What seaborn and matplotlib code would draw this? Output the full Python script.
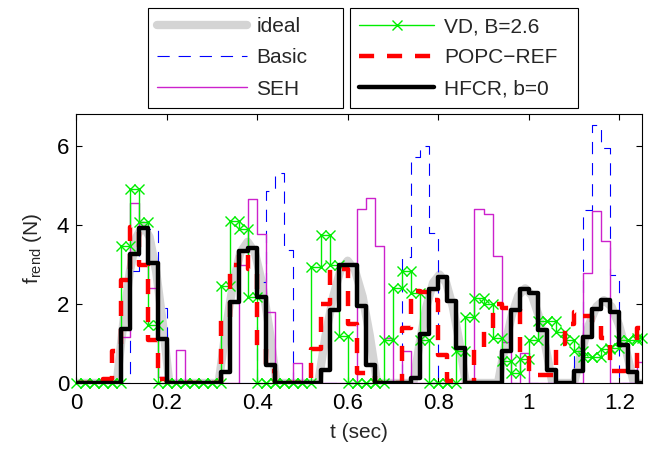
import numpy as np
import matplotlib
matplotlib.use("Agg")
import matplotlib.pyplot as plt
import seaborn as sns

# sample instants of the stair series (sec)
t_step = [0.00, 0.02, 0.04, 0.06, 0.08, 0.10, 0.12, 0.14, 0.16, 0.18,
          0.20, 0.22, 0.24, 0.26, 0.28, 0.30, 0.32, 0.34, 0.36, 0.38,
          0.40, 0.42, 0.44, 0.46, 0.48, 0.50, 0.52, 0.54, 0.56, 0.58,
          0.60, 0.62, 0.64, 0.66, 0.68, 0.70, 0.72, 0.74, 0.76, 0.78,
          0.80, 0.82, 0.84, 0.86, 0.88, 0.90, 0.92, 0.94, 0.96, 0.98,
          1.00, 1.02, 1.04, 1.06, 1.08, 1.10, 1.12, 1.14, 1.16, 1.18,
          1.20, 1.22, 1.24]
t_end = 1.25

# ideal force profile (smooth)
t_ideal = [0.0, 0.090, 0.1045, 0.119, 0.1335, 0.148, 0.1625, 0.177, 0.1915, 0.206,
           0.315, 0.331, 0.347, 0.363, 0.379, 0.395, 0.411, 0.427, 0.443,
           0.535, 0.551, 0.568, 0.584, 0.600, 0.616, 0.633, 0.649, 0.665,
           0.745, 0.7595, 0.774, 0.7885, 0.803, 0.8175, 0.832, 0.8465, 0.861,
           0.932, 0.947, 0.962, 0.977, 0.992, 1.007, 1.022, 1.037, 1.052,
           1.100, 1.1165, 1.133, 1.1495, 1.166, 1.1825, 1.199, 1.2155, 1.232, 1.25]
f_ideal = [0.0, 0.0, 1.53, 2.83, 3.70, 4.00, 3.70, 2.83, 1.53, 0.0,
           0.0, 1.37, 2.53, 3.31, 3.58, 3.31, 2.53, 1.37, 0.0,
           0.0, 1.19, 2.19, 2.86, 3.10, 2.86, 2.19, 1.19, 0.0,
           0.0, 1.05, 1.94, 2.54, 2.75, 2.54, 1.94, 1.05, 0.0,
           0.0, 0.92, 1.70, 2.22, 2.40, 2.22, 1.70, 0.92, 0.0,
           0.0, 0.80, 1.48, 1.94, 2.10, 1.94, 1.48, 0.80, 0.0, 0.0]

f_basic = [0, 0, 0, 0, 0, 0, 2.83, 4.11, 3.90, 1.90,
           0, 0, 0, 0, 0, 0, 0, 0, 0, 0,
           2.57, 4.87, 5.32, 3.37, 0, 0, 0, 0, 0, 0,
           0, 0, 0, 0, 0, 0, 3.20, 5.74, 6.00, 3.80,
           0, 0, 0, 0, 0, 0, 0, 0, 0, 0,
           0, 0, 0, 0, 0, 0.80, 4.39, 6.55, 5.97, 2.74,
           0, 0, 0]

f_seh = [0, 0, 0, 0, 0, 1.17, 4.56, 3.95, 2.42, 0.15,
         0, 0.84, 0, 0, 0, 0, 0, 0, 3.00, 4.67,
         3.78, 1.79, 0, 0, 0.50, 0, 0, 0, 0, 0,
         0, 4.41, 4.69, 3.48, 1.13, 0, 0.82, 0, 0, 0,
         0, 0, 0, 0, 4.41, 4.29, 3.21, 1.03, 0, 0.75,
         0, 0, 0, 0, 0, 0, 2.80, 4.37, 3.59, 0,
         0, 0, 0.54]

f_vd = [0, 0, 0, 0, 0, 3.48, 4.92, 4.07, 1.47, 0,
        0, 0, 0, 0, 0, 0, 2.46, 4.11, 3.90, 2.19,
        0, 0, 0, 0, 0, 0, 2.93, 3.75, 3.00, 1.20,
        0, 0, 0, 0, 1.10, 2.40, 2.83, 2.28, 1.10, 0,
        0, 0, 0.80, 1.68, 2.15, 2.00, 1.15, 0.55, 0.25, 0.60,
        1.09, 1.56, 1.56, 1.30, 1.10, 0.80, 0.67, 0.67, 0.85, 0.90,
        1.09, 1.09, 1.15]

f_popc = [0, 0, 0, 0.10, 0.80, 2.61, 3.95, 3.00, 1.10, 0.10,
          0, 0, 0, 0, 0, 0, 1.64, 3.00, 3.30, 2.90,
          0.85, 0.30, 0, 0, 0, 0.07, 0.85, 2.00, 2.90, 2.90,
          1.50, 0.25, 0.25, 0, 0, 0, 1.40, 2.33, 2.30, 2.10,
          0.70, 0.05, 0.05, 0, 0.88, 1.35, 2.00, 1.90, 1.90, 0.75,
          0.20, 0.20, 0.20, 1.00, 1.50, 1.81, 1.70, 1.50, 1.15, 0.30,
          0.30, 0.30, 1.40]

f_hfcr = [0, 0, 0, 0, 0, 1.36, 3.27, 3.94, 3.05, 1.12,
          0, 0, 0, 0, 0, 0, 0.29, 2.05, 3.35, 3.42,
          2.19, 0.46, 0, 0, 0, 0, 0, 0.33, 1.84, 2.98,
          3.00, 1.94, 0.46, 0, 0, 0, 0, 0.12, 1.24, 2.38,
          2.70, 2.09, 0.88, 0, 0, 0, 0, 0.80, 1.85, 2.38,
          2.28, 1.35, 0.33, 0, 0, 0.30, 1.16, 1.87, 2.10, 1.79,
          0.96, 0.29, 0]

labels_left = ["ideal", "Basic", "SEH"]
labels_right = ["VD, B=2.6", "POPC\u2212REF", "HFCR, b=0"]


def stairs(values):
    # vertices of a staircase, like matlab stairs()
    edges = np.array(t_step + [t_end])
    xs = np.repeat(edges, 2)[1:-1]
    ys = np.repeat(np.array(values, dtype=float), 2)
    return xs, ys


sns.set_theme(style="ticks")
plt.rcParams["font.family"] = ["Liberation Sans", "DejaVu Sans"]

fig = plt.figure(figsize=(6.52, 4.49), dpi=100)
ax = fig.add_axes([76 / 652, 1 - 383 / 449, 566 / 652, 269 / 449])

sns.lineplot(x=t_ideal, y=f_ideal, estimator=None, sort=False, ax=ax,
             color="#d4d4d4", lw=6, solid_joinstyle="round")
h_ideal = ax.lines[-1]

x, y = stairs(f_basic)
sns.lineplot(x=x, y=y, estimator=None, sort=False, ax=ax,
             color="#0000ff", lw=0.8, linestyle=(0, (11, 8)))
h_basic = ax.lines[-1]

x, y = stairs(f_seh)
sns.lineplot(x=x, y=y, estimator=None, sort=False, ax=ax,
             color="#cc22cc", lw=1.0)
h_seh = ax.lines[-1]

x, y = stairs(f_vd)
sns.lineplot(x=x, y=y, estimator=None, sort=False, ax=ax,
             color="#00ee00", lw=1.0, marker="x", markersize=7,
             markeredgecolor="#00ee00", markeredgewidth=1.0, clip_on=False)
h_vd = ax.lines[-1]

x, y = stairs(f_popc)
sns.lineplot(x=x, y=y, estimator=None, sort=False, ax=ax,
             color="#ff0000", lw=3.2, linestyle=(0, (3.4, 2.9)))
h_popc = ax.lines[-1]

x, y = stairs(f_hfcr)
sns.lineplot(x=x, y=y, estimator=None, sort=False, ax=ax,
             color="black", lw=3.2)
h_hfcr = ax.lines[-1]

ax.set_xlim(0, 1.25)
ax.set_ylim(0, 6.82)
ax.set_xticks([0, 0.2, 0.4, 0.6, 0.8, 1.0, 1.2])
ax.set_xticklabels(["0", "0.2", "0.4", "0.6", "0.8", "1", "1.2"])
ax.set_yticks([0, 2, 4, 6])
ax.tick_params(direction="in", length=4, width=0.8, top=True, right=True,
               labelsize=16, colors="black")
ax.tick_params(axis="x", pad=7)
ax.tick_params(axis="y", pad=5)
for s in ax.spines.values():
    s.set_visible(True)
    s.set_linewidth(0.8)
    s.set_color("black")

ax.set_xlabel("t (sec)", fontsize=15, labelpad=7)
ax.set_ylabel(r"f$_{\mathregular{rend}}$ (N)", fontsize=15, labelpad=9)

leg_kw = dict(loc="upper left", mode="expand", borderaxespad=0, borderpad=0.45,
              labelspacing=0.58, handletextpad=0.45, fontsize=15,
              fancybox=False, framealpha=1, edgecolor="black")
leg1 = fig.legend([h_ideal, h_basic, h_seh], labels_left,
                  bbox_to_anchor=(148 / 652, 1 - 110 / 449, 195 / 652, 102 / 449),
                  handlelength=4.3, **leg_kw)
leg2 = fig.legend([h_vd, h_popc, h_hfcr], labels_right,
                  bbox_to_anchor=(350 / 652, 1 - 110 / 449, 228 / 652, 102 / 449),
                  handlelength=3.6, **leg_kw)
for leg in (leg1, leg2):
    leg.get_frame().set_linewidth(0.8)
# single marker in the VD legend entry
leg2.legend_handles[0].set_markevery([1])

fig.savefig("out.png", dpi=100)
